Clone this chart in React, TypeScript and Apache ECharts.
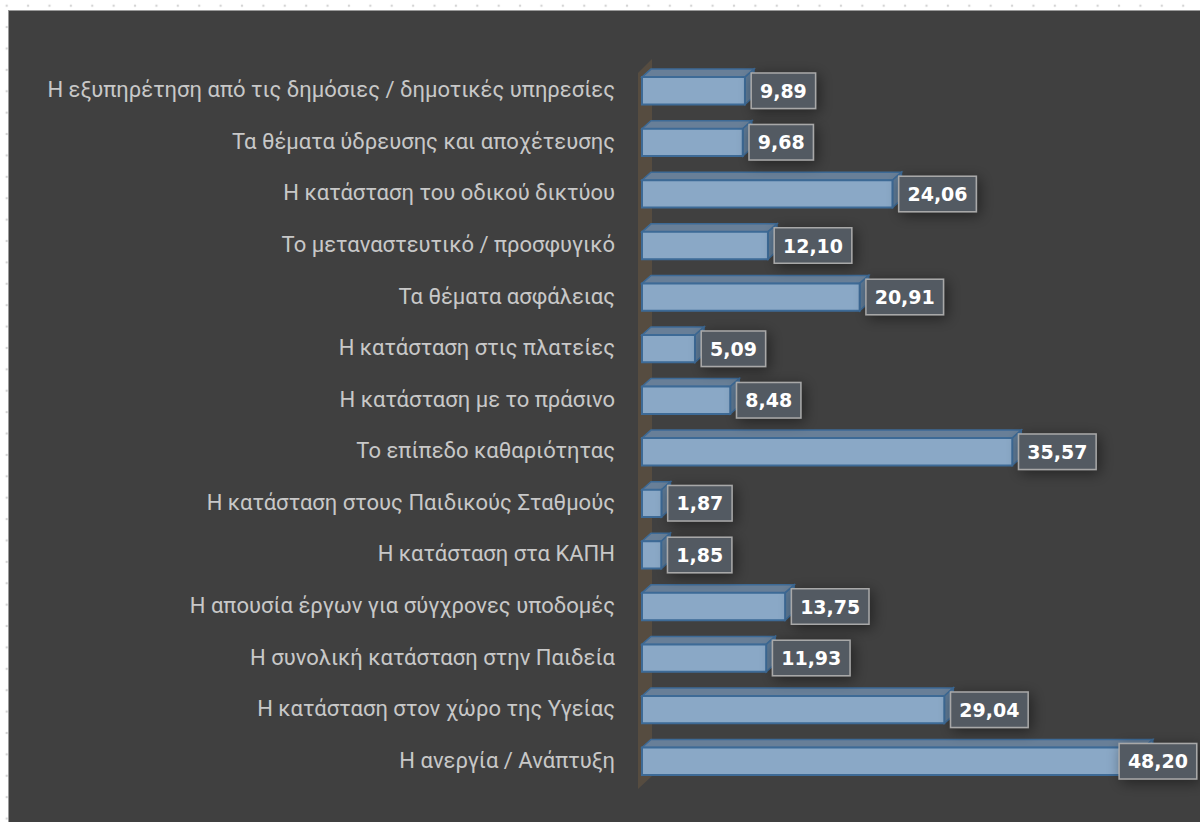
import React, { useEffect, useRef } from "react";
import * as echarts from "echarts";

const categories: string[] = [
  "Η εξυπηρέτηση από τις δημόσιες / δημοτικές υπηρεσίες",
  "Τα θέματα ύδρευσης και αποχέτευσης",
  "Η κατάσταση του οδικού δικτύου",
  "Το μεταναστευτικό / προσφυγικό",
  "Τα θέματα ασφάλειας",
  "Η κατάσταση στις πλατείες",
  "Η κατάσταση με το πράσινο",
  "Το επίπεδο καθαριότητας",
  "Η κατάσταση στους Παιδικούς Σταθμούς",
  "Η κατάσταση στα ΚΑΠΗ",
  "Η απουσία έργων για σύγχρονες υποδομές",
  "Η συνολική κατάσταση στην Παιδεία",
  "Η κατάσταση στον χώρο της Υγείας",
  "Η ανεργία / Ανάπτυξη",
];

const values: number[] = [
  9.89, 9.68, 24.06, 12.1, 20.91, 5.09, 8.48, 35.57, 1.87, 1.85, 13.75, 11.93,
  29.04, 48.2,
];

const CHART_W = 1192;
const CHART_H = 812;
const GRID = { left: 633, right: 37.5, top: 53, bottom: 36 };
const VALUE_FONT_SIZE = 19;

function estimateTextWidth(s: string): number {
  let w = 0;
  for (const ch of s) w += ch === "," ? 0.38 : 0.696;
  return w * VALUE_FONT_SIZE;
}

export default function App() {
  const ref = useRef<HTMLDivElement>(null);

  useEffect(() => {
    if (!ref.current) return;
    const chart = echarts.init(ref.current, undefined, { renderer: "svg" });
    const gl = GRID.left;
    const gt = GRID.top;
    const gb = CHART_H - GRID.bottom;
    const option: any = {
      animation: false,
      backgroundColor: "#404040",
      grid: { ...GRID, containLabel: false },
      xAxis: {
        type: "value",
        min: 0,
        max: 50,
        show: false,
      },
      yAxis: {
        type: "category",
        inverse: true,
        data: categories,
        axisLine: { show: false },
        axisTick: { show: false },
        axisLabel: {
          color: "#c8c8c8",
          fontFamily: "Roboto, 'Liberation Sans', Arial, sans-serif",
          fontSize: 22,
          margin: 27,
        },
      },
      graphic: [
        {
          type: "polygon",
          z: 1,
          silent: true,
          shape: {
            points: [
              [gl - 4, gt + 9],
              [gl + 10, gt - 5],
              [gl + 10, gb - 11],
              [gl - 4, gb + 2],
            ],
          },
          style: { fill: "#564c40" },
        },
      ],
      series: [
        {
          type: "custom",
          z: 3,
          encode: { x: 0, y: 1 },
          data: values.map((v, i) => [v, i]),
          renderItem: (params: any, api: any) => {
            const idx = api.value(1);
            const val = api.value(0);
            const p0 = api.coord([0, idx]);
            const p1 = api.coord([val, idx]);
            const band = api.size([0, 1])[1];
            const h = band * 0.53;
            const dx = 9;
            const dy = 8;
            const x0 = p0[0];
            const x1 = p1[0];
            const yc = p0[1] + 1;
            const yt = yc - h / 2;
            const yb = yc + h / 2;
            const txt = val.toFixed(2).replace(".", ",");
            const boxW = estimateTextWidth(txt) + 16 + 3;
            const W = api.getWidth();
            const bx = Math.min(x1 + 7, W - boxW - 1);
            return {
              type: "group",
              children: [
                {
                  type: "polygon",
                  shape: {
                    points: [
                      [x0, yt],
                      [x0 + dx, yt - dy],
                      [x1 + dx, yt - dy],
                      [x1, yt],
                    ],
                  },
                  style: {
                    fill: "#687f98",
                    stroke: "#3d6a96",
                    lineWidth: 1.5,
                  },
                },
                {
                  type: "polygon",
                  shape: {
                    points: [
                      [x1, yt],
                      [x1 + dx, yt - dy],
                      [x1 + dx, yb - dy],
                      [x1, yb],
                    ],
                  },
                  style: {
                    fill: "#5d7893",
                    stroke: "#3d6a96",
                    lineWidth: 1.5,
                  },
                },
                {
                  type: "rect",
                  shape: { x: x0, y: yt, width: x1 - x0, height: h },
                  style: {
                    fill: "#8aa8c6",
                    stroke: "#3d6a96",
                    lineWidth: 2,
                  },
                },
                {
                  type: "text",
                  z2: 10,
                  style: {
                    text: txt,
                    x: bx,
                    y: yc,
                    align: "left",
                    verticalAlign: "middle",
                    fill: "#ffffff",
                    font: "bold " + VALUE_FONT_SIZE + "px 'DejaVu Sans', sans-serif",
                    backgroundColor: "#535a62",
                    borderColor: "#a8a8a8",
                    borderWidth: 1.5,
                    padding: [8, 8, 7, 8],
                    shadowColor: "rgba(0,0,0,0.45)",
                    shadowBlur: 14,
                    shadowOffsetX: 3,
                    shadowOffsetY: 3,
                  },
                },
              ],
            };
          },
        },
      ],
    };
    chart.setOption(option);
    return () => chart.dispose();
  }, []);

  return (
    <div
      style={{
        position: "fixed",
        left: 0,
        top: 0,
        width: 1200,
        height: 822,
        background: "#ffffff",
        backgroundImage:
          "radial-gradient(circle, #d4d4d4 1px, rgba(255,255,255,0) 1.6px)",
        backgroundSize: "21.4px 21.4px",
        backgroundPosition: "-4px -5px",
        overflow: "hidden",
      }}
    >
      <div
        ref={ref}
        style={{
          position: "absolute",
          left: 8,
          top: 10,
          width: CHART_W,
          height: CHART_H,
          borderLeft: "1px solid #9a9a9a",
          borderTop: "1px solid #9a9a9a",
          boxSizing: "border-box",
        }}
      />
    </div>
  );
}
